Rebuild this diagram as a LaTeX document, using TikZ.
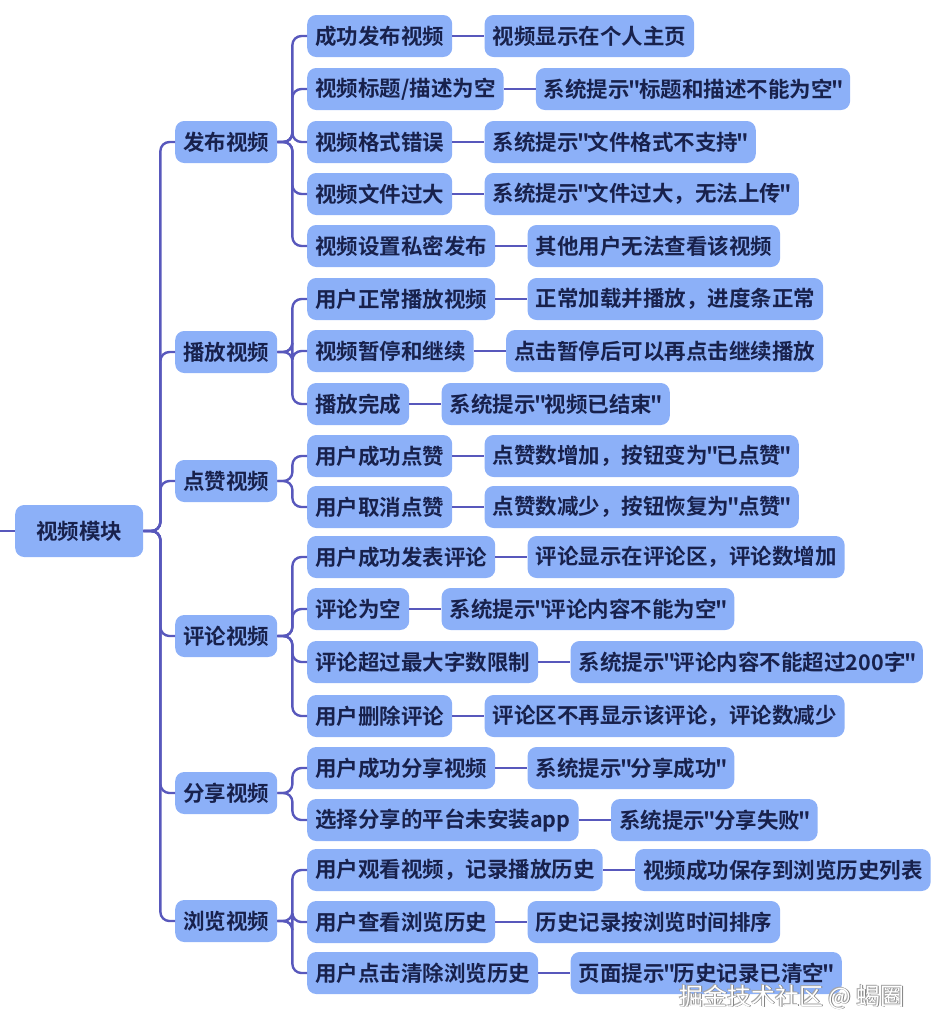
\documentclass[tikz,border=0pt]{standalone}
\usepackage{fontspec}
\setmainfont{Noto Sans CJK SC}[Ligatures=TeXOff, BoldFont={Noto Sans CJK SC Bold}, BoldFeatures={Ligatures=TeXOff}]
\usetikzlibrary{positioning}
\newcommand{\qmk}{\kern-1.5pt"\kern-1.5pt}
\definecolor{boxfill}{RGB}{140,176,248}
\definecolor{txt}{RGB}{24,33,76}
\definecolor{edgec}{RGB}{88,88,188}
\tikzset{
  box/.style={fill=boxfill, rounded corners=9pt, text=txt, font=\bfseries\fontsize{21.5}{24}\selectfont,
    minimum height=42pt, inner xsep=8pt, inner ysep=0pt, anchor=west},
  rootbox/.style={box, minimum height=52pt, inner xsep=21pt},
  conn/.style={draw=edgec, line width=2.4pt, rounded corners=9pt},
  wmtxt/.style={font=\fontsize{24}{27}\selectfont, inner sep=0pt}
}
\begin{document}
\begin{tikzpicture}[x=1pt,y=-1pt]
\useasboundingbox (0,0) rectangle (939,1036);
% root
\node[rootbox] (root) at (15,531) {视频模块};
\coordinate (lft) at (0,531);
% level 1
\node[box] (fb) at (175,142) {发布视频};
\node[box] (bf) at (175,352) {播放视频};
\node[box] (dz) at (175,481) {点赞视频};
\node[box] (pl) at (175,636) {评论视频};
\node[box] (fx) at (175,793) {分享视频};
\node[box] (ll) at (175,921) {浏览视频};
% level 2
\node[box] (a1) at (307,36) {成功发布视频};
\node[box] (a2) at (307,89) {视频标题/描述为空};
\node[box] (a3) at (307,142) {视频格式错误};
\node[box] (a4) at (307,194) {视频文件过大};
\node[box] (a5) at (307,246) {视频设置私密发布};
\node[box] (b1) at (307,299) {用户正常播放视频};
\node[box] (b2) at (307,351) {视频暂停和继续};
\node[box] (b3) at (307,404) {播放完成};
\node[box] (c1) at (307,456) {用户成功点赞};
\node[box] (c2) at (307,507) {用户取消点赞};
\node[box] (d1) at (307,557) {用户成功发表评论};
\node[box] (d2) at (307,609) {评论为空};
\node[box] (d3) at (307,662) {评论超过最大字数限制};
\node[box] (d4) at (307,716) {用户删除评论};
\node[box] (e1) at (307,768) {用户成功分享视频};
\node[box] (e2) at (307,820) {选择分享的平台未安装app};
\node[box] (f1) at (307,870) {用户观看视频，记录播放历史};
\node[box] (f2) at (307,922) {用户查看浏览历史};
\node[box] (f3) at (307,973) {用户点击清除浏览历史};
% level 3
\node[box, right=32pt of a1] (a1r) {视频显示在个人主页};
\node[box, right=32pt of a2] (a2r) {系统提示\qmk 标题和描述不能为空\qmk};
\node[box, right=32pt of a3] (a3r) {系统提示\qmk 文件格式不支持\qmk};
\node[box, right=32pt of a4] (a4r) {系统提示\qmk 文件过大，无法上传\qmk};
\node[box, right=32pt of a5] (a5r) {其他用户无法查看该视频};
\node[box, right=32pt of b1] (b1r) {正常加载并播放，进度条正常};
\node[box, right=32pt of b2] (b2r) {点击暂停后可以再点击继续播放};
\node[box, right=32pt of b3] (b3r) {系统提示\qmk 视频已结束\qmk};
\node[box, right=32pt of c1] (c1r) {点赞数增加，按钮变为\qmk 已点赞\qmk};
\node[box, right=32pt of c2] (c2r) {点赞数减少，按钮恢复为\qmk 点赞\qmk};
\node[box, right=32pt of d1] (d1r) {评论显示在评论区，评论数增加};
\node[box, right=32pt of d2] (d2r) {系统提示\qmk 评论内容不能为空\qmk};
\node[box, right=32pt of d3] (d3r) {系统提示\qmk 评论内容不能超过200字\qmk};
\node[box, right=32pt of d4] (d4r) {评论区不再显示该评论，评论数减少};
\node[box, right=32pt of e1] (e1r) {系统提示\qmk 分享成功\qmk};
\node[box, right=32pt of e2] (e2r) {系统提示\qmk 分享失败\qmk};
\node[box, right=32pt of f1] (f1r) {视频成功保存到浏览历史列表};
\node[box, right=32pt of f2] (f2r) {历史记录按浏览时间排序};
\node[box, right=32pt of f3] (f3r) {页面提示\qmk 历史记录已清空\qmk};
% connectors
\draw[conn] (lft) -- (root.west);
\foreach \c in {fb,bf,dz,pl,fx,ll} \draw[conn] (root.east) -- ++(17,0) |- (\c.west);
\foreach \c in {a1,a2,a3,a4,a5} \draw[conn] (fb.east) -- ++(15,0) |- (\c.west);
\foreach \c in {b1,b2,b3} \draw[conn] (bf.east) -- ++(15,0) |- (\c.west);
\foreach \c in {c1,c2} \draw[conn] (dz.east) -- ++(15,0) |- (\c.west);
\foreach \c in {d1,d2,d3,d4} \draw[conn] (pl.east) -- ++(15,0) |- (\c.west);
\foreach \c in {e1,e2} \draw[conn] (fx.east) -- ++(15,0) |- (\c.west);
\foreach \c in {f1,f2,f3} \draw[conn] (ll.east) -- ++(15,0) |- (\c.west);
\foreach \c in {a1,a2,a3,a4,a5,b1,b2,b3,c1,c2,d1,d2,d3,d4,e1,e2,f1,f2,f3} \draw[conn] (\c.east) -- (\c r.west);
% watermark
\node[wmtxt, text=gray] (wm1) at (792,997.8) {掘金技术社区 @ 蝎圈};
\node[wmtxt, text=gray] (wm2) at (792.8,997) {掘金技术社区 @ 蝎圈};
\node[wmtxt, text=gray!70] (wm3) at (791.2,996.2) {掘金技术社区 @ 蝎圈};
\node[wmtxt, text=white] (wm) at (792,997) {掘金技术社区 @ 蝎圈};
\end{tikzpicture}
\end{document}
